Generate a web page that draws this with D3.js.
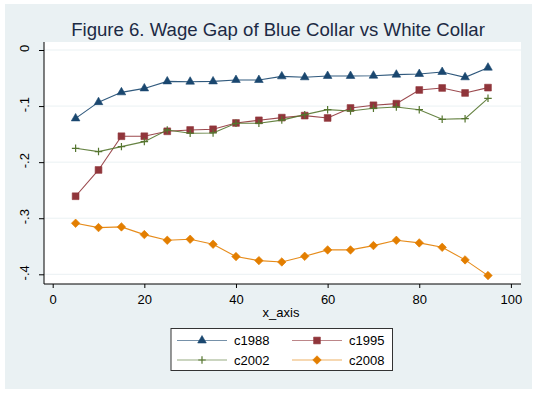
<!DOCTYPE html>
<html>
<head>
<meta charset="utf-8">
<script src="https://cdn.jsdelivr.net/npm/d3@7.9.0/dist/d3.min.js"></script>
<style>
  body { margin: 0; background: #fff; }
  svg { display: block; font-family: "Liberation Sans", Arial, sans-serif; }
</style>
</head>
<body>
<svg id="chart" width="535" height="394"></svg>
<script>
const xValues = [5, 10, 15, 20, 25, 30, 35, 40, 45, 50, 55, 60, 65, 70, 75, 80, 85, 90, 95];
const c1988 = [-0.122, -0.093, -0.0755, -0.0685, -0.056, -0.0565, -0.056, -0.0535, -0.0535, -0.047,
  -0.0487, -0.0463, -0.0463, -0.0458, -0.044, -0.0428, -0.0392, -0.0487, -0.0315];
const c1995 = [-0.2608, -0.2139, -0.1538, -0.1538, -0.145, -0.1426, -0.1414, -0.1301, -0.1254, -0.1206,
  -0.117, -0.1212, -0.1034, -0.0986, -0.0957, -0.0713, -0.0677, -0.0766, -0.0671];
const c2002 = [-0.1753, -0.1812, -0.1723, -0.1634, -0.1426, -0.1485, -0.1479, -0.1307, -0.1307, -0.125,
  -0.1153, -0.1064, -0.1087, -0.104, -0.1016, -0.1064, -0.1236, -0.1224, -0.0862];
const c2008 = [-0.309, -0.3167, -0.3155, -0.3292, -0.3393, -0.3375, -0.3464, -0.3684, -0.3756, -0.378,
  -0.3679, -0.3565, -0.3565, -0.3488, -0.3394, -0.344, -0.3519, -0.3743, -0.4023];
const xTicks = [0, 20, 40, 60, 80, 100];
const yTicks = [0, -0.1, -0.2, -0.3, -0.4];
const yTickLabels = ['0', '-.1', '-.2', '-.3', '-.4'];

// thin plus marker like stata's
const plusSymbol = {
  draw(ctx, size) {
    const r = Math.sqrt(size) / 2;
    ctx.moveTo(-r, 0); ctx.lineTo(r, 0);
    ctx.moveTo(0, -r); ctx.lineTo(0, r);
  }
};

const series = [
  { name: 'c1988', values: c1988, color: '#1a476f', symbol: d3.symbolTriangle, size: 32, rotate: 0, fill: true },
  { name: 'c1995', values: c1995, color: '#90353b', symbol: d3.symbolSquare, size: 46, rotate: 0, fill: true },
  { name: 'c2002', values: c2002, color: '#55752f', symbol: plusSymbol, size: 56, rotate: 0, fill: false },
  { name: 'c2008', values: c2008, color: '#e37e00', symbol: d3.symbolSquare, size: 36, rotate: 45, fill: true }
];

const svg = d3.select('#chart');

// outer graph region
svg.append('rect')
  .attr('x', 5).attr('y', 4).attr('width', 527).attr('height', 385)
  .attr('fill', '#eaf1f3');

const plot = { left: 44, right: 521, top: 42, bottom: 284 };

svg.append('rect')
  .attr('x', plot.left).attr('y', plot.top)
  .attr('width', plot.right - plot.left).attr('height', plot.bottom - plot.top)
  .attr('fill', '#fff');

const x = d3.scaleLinear().domain([0, 100]).range([52.7, 510.9]);
const y = d3.scaleLinear().domain([-0.4, 0]).range([274.3, 50]);

// gridlines
svg.append('g')
  .selectAll('line')
  .data(yTicks)
  .join('line')
  .attr('x1', plot.left).attr('x2', plot.right)
  .attr('y1', d => y(d)).attr('y2', d => y(d))
  .attr('stroke', '#eaf1f3').attr('stroke-width', 1);

// axes
const yAxis = d3.axisLeft(y).tickValues(yTicks).tickSize(5).tickPadding(8)
  .tickFormat((d, i) => yTickLabels[i]);
const gy = svg.append('g').attr('transform', `translate(${plot.left},0)`).call(yAxis);
gy.select('.domain').attr('d', `M0,${plot.top}V${plot.bottom}`).attr('stroke', '#000');
gy.selectAll('.tick line').attr('stroke', '#000');
gy.selectAll('.tick text')
  .attr('font-size', 13).attr('fill', '#000')
  .attr('text-anchor', 'middle')
  .attr('x', 0).attr('dy', 0)
  .attr('transform', 'translate(-15,-2) rotate(-90)');

const xAxis = d3.axisBottom(x).tickValues(xTicks).tickSize(4).tickPadding(7);
const gx = svg.append('g').attr('transform', `translate(0,${plot.bottom})`).call(xAxis);
gx.select('.domain').attr('d', `M${plot.left},0H${plot.right}`).attr('stroke', '#000');
gx.selectAll('.tick line').attr('stroke', '#000');
gx.selectAll('.tick text').attr('font-size', 13).attr('fill', '#000');

svg.append('text')
  .attr('x', 281).attr('y', 317)
  .attr('text-anchor', 'middle')
  .attr('font-size', 13)
  .text('x_axis');

svg.append('text')
  .attr('x', 278).attr('y', 36)
  .attr('text-anchor', 'middle')
  .attr('font-size', 18.6)
  .attr('fill', '#1c2a44')
  .text('Figure 6. Wage Gap of Blue Collar vs White Collar');

// lines + markers
const line = d3.line().x((d, i) => x(xValues[i])).y(d => y(d));

function marker(sel, s) {
  sel.attr('d', d3.symbol(s.symbol, s.size))
    .attr('fill', s.fill ? s.color : 'none')
    .attr('stroke', s.color)
    .attr('stroke-width', s.fill ? 0.6 : 1.2);
}

series.forEach(s => {
  const g = svg.append('g');
  g.append('path')
    .attr('d', line(s.values))
    .attr('fill', 'none')
    .attr('stroke', s.color)
    .attr('stroke-width', 1.1)
    .attr('stroke-opacity', 0.9);
  g.selectAll('path.m')
    .data(s.values)
    .join('path')
    .attr('class', 'm')
    .attr('transform', (d, i) => `translate(${x(xValues[i])},${y(d)}) rotate(${s.rotate})`)
    .call(marker, s);
});

// legend
const legend = svg.append('g');
legend.append('rect')
  .attr('x', 171).attr('y', 328.5).attr('width', 221.5).attr('height', 42)
  .attr('fill', '#fff').attr('stroke', '#333').attr('stroke-width', 1);

const legendPos = [
  { lx: 177, cy: 340.5 }, { lx: 292, cy: 340.5 },
  { lx: 177, cy: 360 }, { lx: 292, cy: 360 }
];

series.forEach((s, i) => {
  const p = legendPos[i];
  const g = legend.append('g');
  g.append('line')
    .attr('x1', p.lx).attr('x2', p.lx + 50)
    .attr('y1', p.cy).attr('y2', p.cy)
    .attr('stroke', s.color).attr('stroke-width', 1.1).attr('stroke-opacity', 0.6);
  g.append('path')
    .attr('transform', `translate(${p.lx + 25},${p.cy}) rotate(${s.rotate})`)
    .call(marker, s);
  g.append('text')
    .attr('x', p.lx + 57).attr('y', p.cy + 4.5)
    .attr('font-size', 13)
    .text(s.name);
});
</script>
</body>
</html>
